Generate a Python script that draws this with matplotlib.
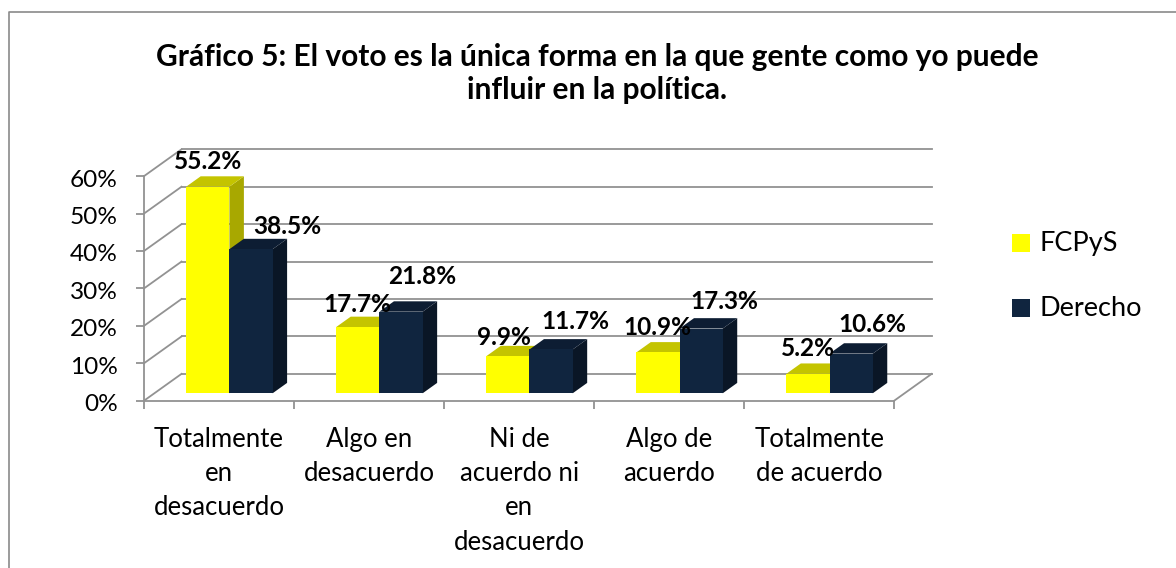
#!/usr/bin/env python3
import matplotlib
matplotlib.use("Agg")
import matplotlib.pyplot as plt
from matplotlib.lines import Line2D
from matplotlib.patches import Polygon, Rectangle
from matplotlib.transforms import ScaledTranslation

W, H = 1176, 568

categories = [
    "Totalmente\nen\ndesacuerdo",
    "Algo en\ndesacuerdo",
    "Ni de\nacuerdo ni\nen\ndesacuerdo",
    "Algo de\nacuerdo",
    "Totalmente\nde acuerdo",
]
fcpys = [55.2, 17.7, 9.9, 10.9, 5.2]
derecho = [38.5, 21.8, 11.7, 17.3, 10.6]
y_ticks = [0, 10, 20, 30, 40, 50, 60]
title = "Gráfico 5: El voto es la única forma en la que gente como yo puede\ninfluir en la política."

# hand-placed data labels, pixel offset from the bar's front top centre
fcpys_nudge = [(0, 25), (0, 23), (-4, 19), (0, 25), (0, 25)]
derecho_nudge = [(36, 23), (21, 35), (24, 28), (23, 27), (21, 29)]

YELLOW = ("#ffff00", "#c4c400", "#a8a800")
NAVY = ("#10253f", "#0d1d33", "#0a1626")
GRID = "#929292"

# oblique depth of the floor, in data units
DX = 0.25
DY = 7.17
BAR_W = 0.288
D0 = 0.277
D1 = 0.663


def project(x, y, d):
    return x + d * DX, y + d * DY


def draw_bar(ax, x0, value, cols):
    x1 = x0 + BAR_W
    front = [project(x0, 0, D0), project(x1, 0, D0), project(x1, value, D0), project(x0, value, D0)]
    top = [project(x0, value, D0), project(x1, value, D0), project(x1, value, D1), project(x0, value, D1)]
    side = [project(x1, 0, D0), project(x1, 0, D1), project(x1, value, D1), project(x1, value, D0)]
    ax.add_patch(Polygon(side, fc=cols[2], ec="none", zorder=3))
    ax.add_patch(Polygon(top, fc=cols[1], ec="none", zorder=3))
    ax.add_patch(Polygon(front, fc=cols[0], ec="none", zorder=3))


plt.rcParams["font.family"] = ["Lato", "DejaVu Sans"]
fig = plt.figure(figsize=(W / 100, H / 100), dpi=100)

# chart border is cut off on the right and at the bottom
fig.add_artist(Line2D([8.5 / W, 8.5 / W, 1], [0, 1 - 12 / H, 1 - 12 / H], color="#8a8a8a", lw=1.2))

# axes box: x 0..5+DX, y 0..60+ on the front plane
left, right = 144, 931.7
bottom, top = 400.7, 149.3
ax = fig.add_axes([left / W, 1 - bottom / H, (right - left) / W, (bottom - top) / H])
ax.set_xlim(0, 5 + DX)
ax.set_ylim(0, 60 + DY)
ax.patch.set_visible(False)
for s in ["top", "right"]:
    ax.spines[s].set_visible(False)
for s in ["left", "bottom"]:
    ax.spines[s].set_color(GRID)
    ax.spines[s].set_linewidth(1.3)
ax.spines["left"].set_bounds(0, 60)
ax.spines["bottom"].set_bounds(0, 5)

ax.set_yticks(y_ticks)
ax.set_yticklabels([f"{v}%" for v in y_ticks], fontsize=17.6, color="black")
ax.tick_params(axis="y", length=6, width=1.3, color=GRID, pad=13)
# nudge y labels down a little
shift = ScaledTranslation(0, -2 / 100, fig.dpi_scale_trans)
for lab in ax.get_yticklabels():
    lab.set_transform(lab.get_transform() + shift)
ax.set_xticks(range(6))
ax.set_xticklabels([])
ax.tick_params(axis="x", length=6, width=1.3, color=GRID)
ax.set_xticks([i + 0.5 for i in range(5)], minor=True)
ax.set_xticklabels(categories, minor=True, fontsize=18.5, linespacing=1.46)
ax.tick_params(axis="x", which="minor", length=0, pad=19)

# back wall gridlines and the left side wall
for v in y_ticks:
    x_b, y_b = project(0, v, 1)
    ax.plot([0, x_b], [v, y_b], color=GRID, lw=1.3, zorder=1, clip_on=False)
    ax.plot([x_b, 5 + DX], [y_b, y_b], color=GRID, lw=1.3, zorder=1, clip_on=False)
ax.plot([5, 5 + DX], [0, DY], color=GRID, lw=1.3, zorder=1, clip_on=False)

for i in range(5):
    c = i + 0.5
    # yellow first: the navy front covers the yellow side
    draw_bar(ax, c - BAR_W, fcpys[i], YELLOW)
    draw_bar(ax, c, derecho[i], NAVY)
    for j, (val, nudge) in enumerate([(fcpys[i], fcpys_nudge[i]), (derecho[i], derecho_nudge[i])]):
        xc = c + (j - 0.5) * BAR_W
        ax.annotate(f"{val}%", project(xc, val, D0), xytext=nudge, textcoords="offset pixels",
                    ha="center", va="center", fontsize=17.6, fontweight="bold", zorder=5)

fig.text(597 / W, 1 - 73.5 / H, title, ha="center", va="center", fontsize=21.5, fontweight="bold",
         linespacing=1.2)

# legend
for name, col, y in [("FCPyS", YELLOW[0], 243), ("Derecho", NAVY[0], 308)]:
    fig.add_artist(Rectangle((1012 / W, 1 - (y + 9) / H), 18 / W, 18 / H, transform=fig.transFigure,
                             fc=col, ec="none"))
    fig.text(1039 / W, 1 - (y + 1) / H, name, ha="left", va="center", fontsize=19.5)

fig.savefig("out.png", dpi=100)
